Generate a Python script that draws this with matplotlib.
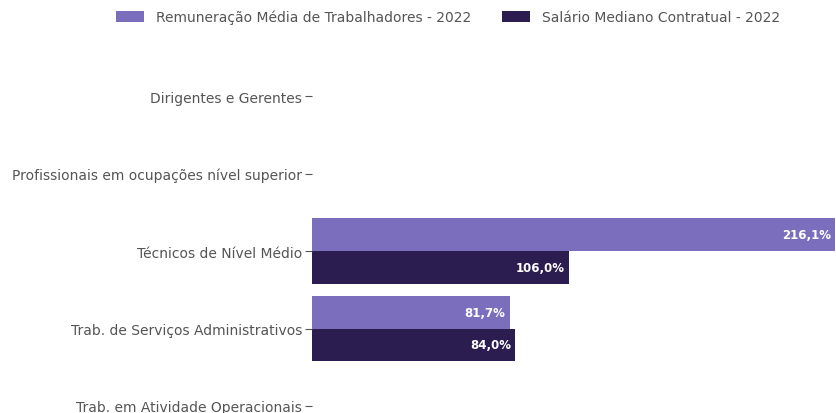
import matplotlib
matplotlib.use("Agg")
import matplotlib.pyplot as plt
import numpy as np

CATEGORIES = [
    "Dirigentes e Gerentes",
    "Profissionais em ocupações nível superior",
    "Técnicos de Nível Médio",
    "Trab. de Serviços Administrativos",
    "Trab. em Atividade Operacionais",
]
REMUNERACAO = [np.nan, np.nan, 216.1, 81.7, np.nan]
SALARIO = [np.nan, np.nan, 106.0, 84.0, np.nan]
SERIES_LABELS = [
    "Remuneração Média de Trabalhadores - 2022",
    "Salário Mediano Contratual - 2022",
]

LIGHT = "#7b6fbd"
DARK = "#2b1d4f"
TEXT = "#555555"

plt.rcParams.update({
    "font.family": "DejaVu Sans",
    "font.size": 10,
})

fig = plt.figure(figsize=(8.36, 4.14), dpi=100)
ax = fig.add_axes([312 / 836, 0.0, 1 - 312 / 836, 1 - 60 / 414])

y = np.arange(len(CATEGORIES))
h = 0.42
b1 = ax.barh(y - h / 2, REMUNERACAO, height=h, color=LIGHT, label=SERIES_LABELS[0])
b2 = ax.barh(y + h / 2, SALARIO, height=h, color=DARK, label=SERIES_LABELS[1])

# value labels inside the bar end
for offset, vals in ((-h / 2, REMUNERACAO), (h / 2, SALARIO)):
    for yi, v in zip(y, vals):
        if np.isnan(v):
            continue
        ax.annotate(f"{v:.1f}%".replace(".", ","), (v, yi + offset),
                    xytext=(-3, 0), textcoords="offset points",
                    ha="right", va="center", color="white",
                    fontsize=8.5, fontweight="bold")

ax.set_yticks(y)
ax.set_yticklabels(CATEGORIES, color=TEXT)
ax.set_ylim(4 + 7 / 77.5, -37 / 77.5)
ax.set_xlim(0, 216.5)
ax.tick_params(axis="y", length=5, color=TEXT, pad=2)
ax.set_xticks([])
for s in ax.spines.values():
    s.set_visible(False)

fig.legend(handles=[b1, b2], labels=SERIES_LABELS, loc="center",
           bbox_to_anchor=(0.536, 1 - 18 / 414), ncol=2, frameon=False,
           fontsize=10, handlelength=2.0, handleheight=0.8,
           handletextpad=0.9, columnspacing=2.2, labelcolor=TEXT,
           borderpad=0, borderaxespad=0)

fig.savefig("out.png", dpi=100)
